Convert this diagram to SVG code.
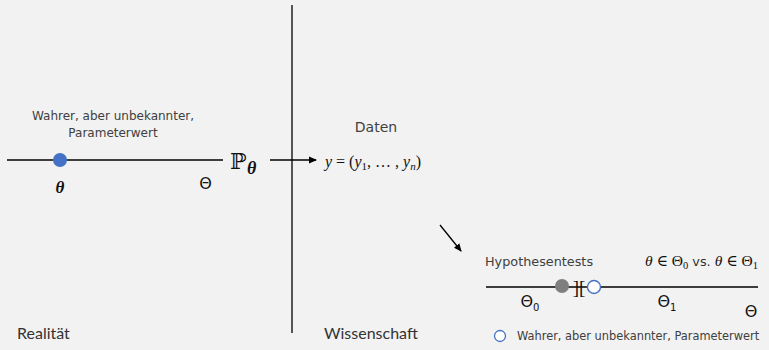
<svg xmlns="http://www.w3.org/2000/svg" width="769" height="350" viewBox="0 0 769 350">
<defs>
<style>
.ln{stroke:#000;stroke-width:1.3;fill:none}
.s{font-family:"DejaVu Sans","Noto Sans",sans-serif;fill:#404040}
.l{font-family:Lato,"Open Sans",sans-serif;fill:#333}
.m{font-family:"Liberation Serif","DejaVu Serif",serif;fill:#111}
.T{font-family:"DejaVu Sans",sans-serif;fill:#111}
.mi{font-family:"Liberation Serif","DejaVu Serif",serif;font-style:italic;fill:#111}
</style>
<marker id="ah" markerWidth="8" markerHeight="8" refX="7" refY="4" orient="auto" markerUnits="userSpaceOnUse">
<path d="M0,0.5 L8,4 L0,7.5 z" fill="#000"/>
</marker>
</defs>
<rect width="769" height="350" fill="#f2f2f2"/>
<g id="divider"><line class="ln" x1="292" y1="5" x2="292" y2="333"/></g>
<g id="reality-axis">
<line class="ln" x1="7" y1="160" x2="223" y2="160"/>
<circle cx="60" cy="160" r="7" fill="#4472c4"/>
<text class="s" x="113" y="120" font-size="12" text-anchor="middle">Wahrer, aber unbekannter,</text>
<text class="s" x="113" y="137" font-size="12" text-anchor="middle">Parameterwert</text>
<text class="mi" x="60" y="193" font-size="17" text-anchor="middle" font-weight="bold">θ</text>
<text class="T" x="205.5" y="189" font-size="16" text-anchor="middle">Θ</text>
</g>
<g id="P-theta">
<text class="m" x="230" y="169" font-size="22">ℙ</text>
<text class="mi" x="247" y="174" font-size="18" font-weight="bold">θ</text>
</g>
<g id="daten">
<text class="s" x="376" y="132" font-size="14" text-anchor="middle">Daten</text>
<text class="mi" x="373" y="167" font-size="16" text-anchor="middle">y <tspan font-style="normal">= (</tspan>y<tspan font-size="11" font-style="normal" dy="3">1</tspan><tspan dy="-3" font-style="normal">, … , </tspan>y<tspan font-size="11" dy="3">n</tspan><tspan dy="-3" font-style="normal">)</tspan></text>
</g>
<g id="hypothesis">
<text class="s" x="485" y="266" font-size="12.8">Hypothesentests</text>
<text class="mi" x="645" y="266" font-size="15.5">θ <tspan font-style="normal">∈ Θ</tspan><tspan font-style="normal" font-size="10.5" dy="3">0</tspan><tspan dy="-3" font-style="normal" font-family="DejaVu Sans,sans-serif" font-size="12.8" fill="#333"> vs. </tspan>θ<tspan font-style="normal"> ∈ Θ</tspan><tspan font-style="normal" font-size="10.5" dy="3">1</tspan></text>
<line class="ln" x1="486" y1="287" x2="758" y2="287"/>
<circle cx="562" cy="286" r="7" fill="#7f7f7f"/>
<text class="m" x="579" y="294" font-size="19" text-anchor="middle">][</text>
<circle cx="594" cy="287" r="6.5" fill="#fff" stroke="#4472c4" stroke-width="1.4"/>
<text class="T" x="520.5" y="307" font-size="16">Θ<tspan font-size="10" dy="4">0</tspan></text>
<text class="T" x="657.5" y="307" font-size="16">Θ<tspan font-size="10" dy="4">1</tspan></text>
<text class="T" x="751" y="317" font-size="16" text-anchor="middle">Θ</text>
</g>
<g id="legend">
<circle cx="500" cy="336" r="5.5" fill="#fff" stroke="#4472c4" stroke-width="1.3"/>
<text class="s" x="517" y="340" font-size="11.4">Wahrer, aber unbekannter, Parameterwert</text>
</g>
<g id="labels">
<text class="l" x="17" y="339" font-size="16">Realität</text>
<text class="l" x="324" y="339" font-size="16">Wissenschaft</text>
</g>
<g id="connectors">
<line class="ln" x1="270" y1="160" x2="316" y2="160" marker-end="url(#ah)"/>
<line class="ln" x1="440" y1="225" x2="461" y2="251" marker-end="url(#ah)"/>
</g>
</svg>
